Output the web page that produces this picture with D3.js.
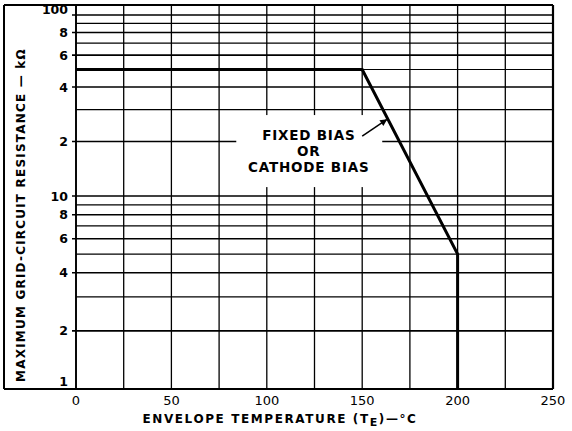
<!DOCTYPE html>
<html><head><meta charset="utf-8">
<script src="https://cdn.jsdelivr.net/npm/d3@7"></script>
<style>
body{margin:0;background:#fff;}
text{font-family:"DejaVu Sans",sans-serif;fill:#000;}
</style></head>
<body><svg id="c" width="572" height="431"></svg>
<script>
// Data
const xTicks = [0, 50, 100, 150, 200, 250];
const xGrid = [0, 25, 50, 75, 100, 125, 150, 175, 200, 225, 250];
const yGrid = [1, 2, 3, 4, 5, 6, 7, 8, 9, 10, 20, 30, 40, 50, 60, 70, 80, 90, 100];
const yTickValues = [1, 2, 4, 6, 8, 10, 20, 40, 60, 80, 100];
const yTickLabels = ["1", "2", "4", "6", "8", "10", "2", "4", "6", "8", "100"];
const curveTemp = [0, 150, 200, 200];
const curveRes = [50, 50, 5, 1];
const labelLines = ["FIXED BIAS", "OR", "CATHODE BIAS"];
const arrowTemp = [150, 162.8];
const arrowRes = [21.4, 26.4];

const svg = d3.select("#c");
const L = 76, R = 553, T = 5, B = 389;
const x = d3.scaleLinear().domain([0, 250]).range([L, R]);
const y = d3.scaleLog().domain([1, 10, 100]).range([B, 196, 15]);

// grid
const g = svg.append("g");
g.selectAll("line.h").data(yGrid).join("line")
  .attr("x1", d => yTickValues.includes(d) ? L - 4 : L).attr("x2", R)
  .attr("y1", d => y(d)).attr("y2", d => y(d))
  .attr("stroke", "#000").attr("stroke-width", d => yTickValues.includes(d) ? 1.6 : 1.2);
g.selectAll("line.v").data(xGrid).join("line")
  .attr("x1", d => x(d)).attr("x2", d => x(d))
  .attr("y1", T).attr("y2", B)
  .attr("stroke", "#000").attr("stroke-width", 1.3);

// label mask
const labelX = x(122);
svg.append("rect").attr("x", x(84)).attr("y", y(28)).attr("width", x(160.5) - x(84)).attr("height", y(11.2) - y(28))
  .attr("fill", "#fff");

// frame
svg.append("line").attr("x1", 4).attr("x2", R).attr("y1", B).attr("y2", B).attr("stroke", "#000").attr("stroke-width", 2.2);
svg.append("line").attr("x1", 4).attr("x2", R).attr("y1", T).attr("y2", T).attr("stroke", "#000").attr("stroke-width", 2);
svg.append("line").attr("x1", 4).attr("x2", 4).attr("y1", T).attr("y2", B).attr("stroke", "#000").attr("stroke-width", 2);
svg.append("line").attr("x1", R).attr("x2", R).attr("y1", T).attr("y2", B).attr("stroke", "#000").attr("stroke-width", 2.2);
svg.append("line").attr("x1", L).attr("x2", L).attr("y1", T).attr("y2", B).attr("stroke", "#000").attr("stroke-width", 1.8);

// curve
const pts = curveTemp.map((t, i) => [t, curveRes[i]]);
svg.append("path").datum(pts)
  .attr("d", d3.line().x(d => x(d[0])).y(d => y(d[1])))
  .attr("fill", "none").attr("stroke", "#000").attr("stroke-width", 3).attr("stroke-linejoin", "miter");

// annotation
labelLines.forEach((t, i) => {
  svg.append("text").attr("x", labelX).attr("y", y(21) + 2 + i * 16)
    .attr("text-anchor", "middle").attr("font-size", 13.5).attr("font-weight", "bold")
    .attr("letter-spacing", 0.8).text(t);
});
svg.append("defs").append("marker").attr("id", "ah").attr("viewBox", "0 0 10 10")
  .attr("refX", 9).attr("refY", 5).attr("markerWidth", 10).attr("markerHeight", 7).attr("markerUnits", "userSpaceOnUse")
  .attr("orient", "auto").append("path").attr("d", "M0,0 L10,5 L0,10 Z").attr("fill", "#000");
svg.append("line")
  .attr("x1", x(arrowTemp[0])).attr("y1", y(arrowRes[0]))
  .attr("x2", x(arrowTemp[1])).attr("y2", y(arrowRes[1]))
  .attr("stroke", "#000").attr("stroke-width", 1.5).attr("marker-end", "url(#ah)");

// y tick labels
svg.selectAll("text.yt").data(yTickValues).join("text")
  .attr("x", 68).attr("y", (d, i) => y(d) + (d === 1 ? -3 : d === 100 ? -1 : 4.5))
  .attr("text-anchor", "end").attr("font-size", 12.5).attr("font-weight", "bold")
  .text((d, i) => yTickLabels[i]);

// x tick labels
svg.selectAll("text.xt").data(xTicks).join("text")
  .attr("x", d => x(d)).attr("y", 405)
  .attr("text-anchor", "middle").attr("font-size", 13)
  .text(d => String(d));

// axis titles
const xt = svg.append("text").attr("x", 280).attr("y", 423).attr("text-anchor", "middle")
  .attr("font-size", 12).attr("font-weight", "bold").attr("letter-spacing", 1.6);
xt.append("tspan").text("ENVELOPE TEMPERATURE (T");
xt.append("tspan").attr("dy", 3).attr("font-size", 11).text("E");
xt.append("tspan").attr("dy", -3).text(")—°C");

svg.append("text").attr("transform", "translate(25,215) rotate(-90)").attr("text-anchor", "middle")
  .attr("font-size", 12).attr("font-weight", "bold").attr("letter-spacing", 1.2)
  .text("MAXIMUM GRID-CIRCUIT RESISTANCE — kΩ");
</script></body></html>
